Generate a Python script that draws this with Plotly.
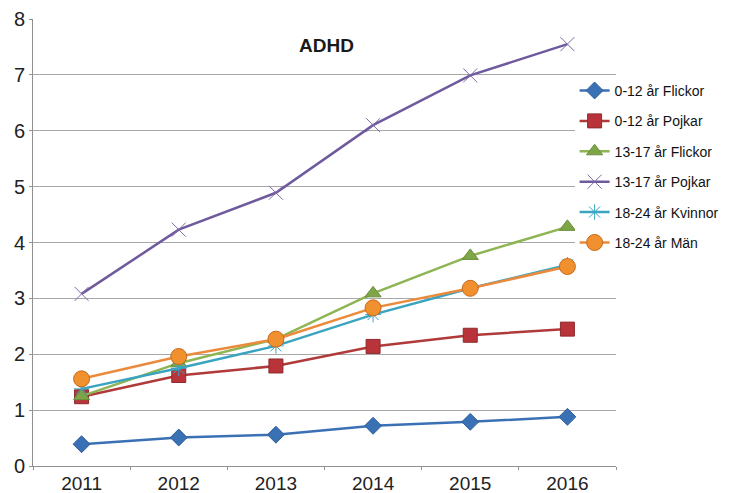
import plotly.graph_objects as go

years = ["2011", "2012", "2013", "2014", "2015", "2016"]
series_names = ["0-12 år Flickor", "0-12 år Pojkar", "13-17 år Flickor",
                "13-17 år Pojkar", "18-24 år Kvinnor", "18-24 år Män"]
flickor_0_12 = [0.39, 0.51, 0.56, 0.72, 0.79, 0.88]
pojkar_0_12 = [1.24, 1.62, 1.79, 2.14, 2.34, 2.45]
flickor_13_17 = [1.25, 1.84, 2.27, 3.09, 3.76, 4.28]
pojkar_13_17 = [3.08, 4.23, 4.89, 6.10, 6.99, 7.55]
kvinnor_18_24 = [1.38, 1.75, 2.15, 2.71, 3.18, 3.60]
man_18_24 = [1.56, 1.96, 2.27, 2.83, 3.18, 3.57]
y_ticks = [0, 1, 2, 3, 4, 5, 6, 7, 8]

values = [flickor_0_12, pojkar_0_12, flickor_13_17, pojkar_13_17, kvinnor_18_24, man_18_24]
line_colors = ["#3a70b4", "#b03a3a", "#8db553", "#6f5a9e", "#3aa3bf", "#ec8a3c"]
marker_colors = ["#3a70b4", "#b8343a", "#7ea547", "#7f6aa8", "#3aa8c6", "#f0902e"]
edge_colors = ["#2f5f9a", "#8e2a2e", "#6a8f3a", "#7f6aa8", "#3aa8c6", "#c86a1c"]
symbols = ["diamond", "square", "triangle-up", "x-thin-open", "asterisk-open", "circle"]
sizes = [13, 14, 14, 14, 13, 16]

FONT = "Liberation Sans"

fig = go.Figure()
for i, (name, vals) in enumerate(zip(series_names, values)):
    marker = dict(symbol=symbols[i], size=sizes[i], color=marker_colors[i],
                  line=dict(width=1, color=edge_colors[i]))
    fig.add_trace(go.Scatter(
        x=years, y=vals, name=name, mode="lines+markers",
        line=dict(color=line_colors[i], width=2.5),
        marker=marker, legendgroup=f"g{i}",
    ))

fig.add_annotation(text="<b>ADHD</b>", x=0.504, y=0.941, xref="paper", yref="paper",
                   xanchor="center", yanchor="middle",
                   showarrow=False, font=dict(family=FONT, size=19, color="#1a1a1a"))

fig.update_layout(
    width=729, height=485,
    margin=dict(l=25, r=121, t=11, b=27),
    paper_bgcolor="white", plot_bgcolor="white",
    font=dict(family=FONT, color="#222222"),
    legend=dict(x=0.929, y=0.875, xanchor="left", yanchor="top",
                bgcolor="white", borderwidth=0,
                font=dict(family=FONT, size=14, color="#111111"),
                traceorder="grouped", tracegroupgap=9.2, itemwidth=30),
    xaxis=dict(type="category", range=[-0.5, 5.5], tickson="boundaries",
               ticks="outside", ticklen=3, tickcolor="#909090", automargin=False,
               showline=True, linecolor="#909090", linewidth=1,
               showgrid=False, tickfont=dict(size=19, family=FONT, color="#222222")),
    yaxis=dict(range=[0, 8], tickvals=y_ticks, ticks="outside", ticklen=3,
               tickcolor="#909090", showline=True, linecolor="#909090", linewidth=1,
               automargin=False,
               showgrid=True, gridcolor="#a8a8a8", gridwidth=1, zeroline=False,
               tickfont=dict(size=20, family=FONT, color="#222222")),
    showlegend=True,
)

fig.write_html("out.html")
